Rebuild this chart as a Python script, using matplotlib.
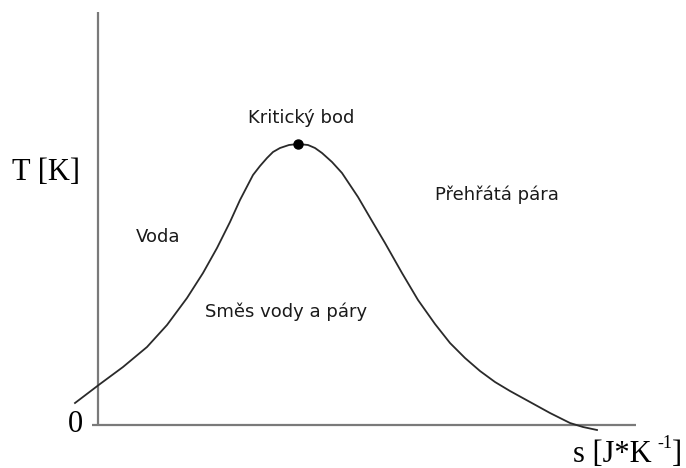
import matplotlib
matplotlib.use("Agg")
import matplotlib.pyplot as plt

# saturation curve (entropy s, temperature T), arbitrary units
s_curve = [-0.23, 0.02, 0.25, 0.49, 0.69, 0.89, 1.05, 1.19, 1.32, 1.42, 1.55, 1.62,
           1.69, 1.75, 1.82, 1.91, 2.00, 2.10, 2.17, 2.24, 2.34, 2.44, 2.60, 2.74,
           2.87, 3.04, 3.20, 3.37, 3.52, 3.67, 3.82, 3.97, 4.12, 4.32, 4.52, 4.72,
           4.85, 4.99]
T_curve = [0.22, 0.41, 0.58, 0.78, 1.00, 1.27, 1.52, 1.77, 2.03, 2.25, 2.50, 2.59,
           2.67, 2.73, 2.77, 2.80, 2.81, 2.80, 2.77, 2.72, 2.63, 2.52, 2.28, 2.04,
           1.82, 1.52, 1.25, 1.01, 0.82, 0.67, 0.54, 0.43, 0.34, 0.23, 0.12, 0.02,
           -0.02, -0.05]

crit_s, crit_T = 2.00, 2.81

labels = ["Kritický bod", "Voda", "Přehřátá pára", "Směs vody a páry"]
label_s = [2.03, 0.60, 3.99, 1.88]
label_T = [3.07, 1.88, 2.30, 1.13]

fig = plt.figure(figsize=(6.86, 4.68), dpi=100)
ax = fig.add_axes([0, 0, 1, 1])
ax.set_xlim(-0.98, 5.88)
ax.set_ylim(-0.43, 4.25)
ax.axis('off')

axis_col = '#7a7a7a'
ax.plot([0, 0], [0, 4.13], color=axis_col, lw=1.6, solid_capstyle='butt')
ax.plot([-0.06, 5.38], [0, 0], color=axis_col, lw=1.6, solid_capstyle='butt')

ax.plot(s_curve, T_curve, color='#2a2a2a', lw=1.3, solid_joinstyle='round')
ax.plot([crit_s], [crit_T], 'o', color='black', markersize=6.5)

for txt, x, y in zip(labels, label_s, label_T):
    ax.text(x, y, txt, fontsize=13, color='#1a1a1a', ha='center', va='center',
            family='DejaVu Sans')

serif = 'Liberation Serif'
ax.text(-0.52, 2.52, "T [K]", fontsize=22, family=serif, ha='center', va='center')
ax.text(-0.23, 0.01, "0", fontsize=22, family=serif, ha='center', va='center')

# x label with a small raised exponent, built from three pieces
xl_s, xl_T = 4.75, -0.37
ax.annotate("s [J*K", (xl_s, xl_T), fontsize=22, family=serif,
            ha='left', va='baseline')
ax.annotate("-1", (xl_s, xl_T), xytext=(61, 10), textcoords='offset points',
            fontsize=13, family=serif, ha='left', va='baseline')
ax.annotate("]", (xl_s, xl_T), xytext=(71, 0), textcoords='offset points',
            fontsize=22, family=serif, ha='left', va='baseline')

fig.savefig("out.png", dpi=100)
